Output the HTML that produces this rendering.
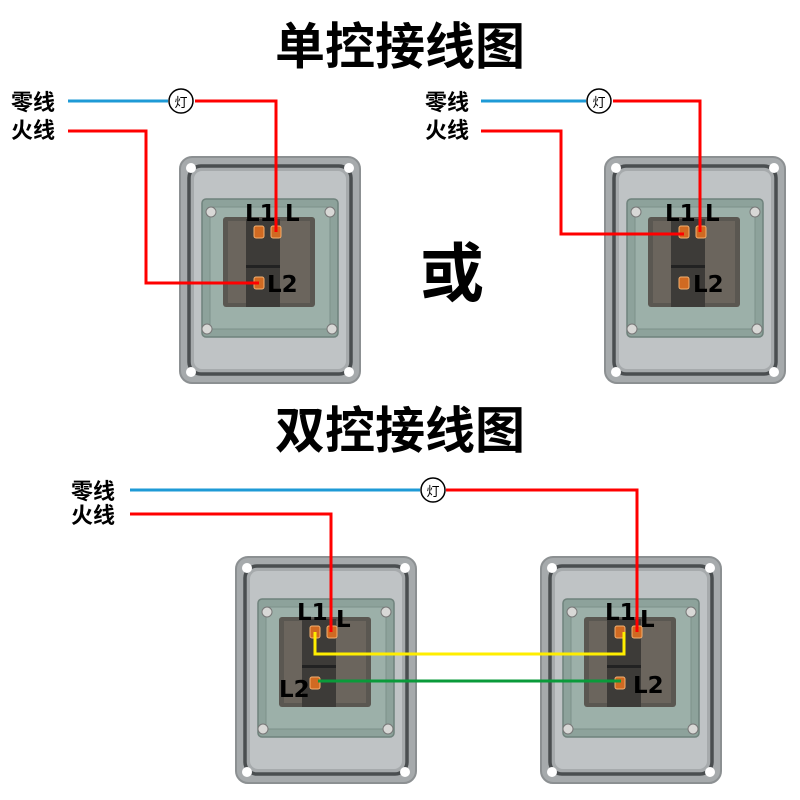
<!DOCTYPE html>
<html><head><meta charset="utf-8"><style>
html,body{margin:0;padding:0;background:#fff}
svg{display:block}
text{font-family:"Liberation Sans","Noto Sans CJK SC",sans-serif}
.cj{font-family:"Noto Sans CJK SC","WenQuanYi Zen Hei",sans-serif;font-weight:bold}
.lb{font-family:"DejaVu Sans","Liberation Sans",sans-serif;font-weight:bold;font-size:23px;fill:#000}
</style></head><body>
<svg width="800" height="800" viewBox="0 0 800 800" xmlns="http://www.w3.org/2000/svg">
<defs>
<g id="sw">
  <rect x="0" y="0" width="180" height="226" rx="12" fill="#a6aaac" stroke="#8c9092" stroke-width="2"/>
  <rect x="9" y="9" width="162" height="208" rx="12" fill="none" stroke="#4a4e50" stroke-width="3.5"/>
  <rect x="14" y="14" width="152" height="198" rx="8" fill="#bfc3c5"/>
  <circle cx="11" cy="11" r="5" fill="#fff"/><circle cx="169" cy="11" r="5" fill="#fff"/>
  <circle cx="11" cy="215" r="5" fill="#fff"/><circle cx="169" cy="215" r="5" fill="#fff"/>
  <rect x="22" y="42" width="136" height="138" rx="4" fill="#8da29b" stroke="#6f827c" stroke-width="1.5"/>
  <rect x="30" y="50" width="120" height="122" rx="3" fill="#9cb0a9" stroke="#7d918a" stroke-width="1"/>
  <rect x="43" y="60" width="92" height="90" rx="3" fill="#5a5751"/>
  <rect x="48" y="64" width="82" height="82" fill="#6b655d"/>
  <rect x="66" y="62" width="34" height="88" fill="#3d3b38"/>
  <rect x="66" y="108" width="34" height="3" fill="#222"/>
  <circle cx="31" cy="55" r="5" fill="#d8d8d6" stroke="#777"/>
  <circle cx="150" cy="55" r="5" fill="#d8d8d6" stroke="#777"/>
  <circle cx="27" cy="172" r="5" fill="#d8d8d6" stroke="#777"/>
  <circle cx="152" cy="172" r="5" fill="#d8d8d6" stroke="#777"/>
  <rect x="74" y="69" width="10" height="12" rx="2" fill="#d06a22" stroke="#f3b070"/>
  <rect x="91" y="69" width="10" height="12" rx="2" fill="#d06a22" stroke="#f3b070"/>
  <rect x="74" y="120" width="10" height="12" rx="2" fill="#d06a22" stroke="#f3b070"/>
</g>
</defs>

<text x="400" y="64" text-anchor="middle" class="cj" font-size="50">单控接线图</text>
<text x="452" y="296" text-anchor="middle" class="cj" font-size="64">或</text>
<text x="400" y="448" text-anchor="middle" class="cj" font-size="50">双控接线图</text>

<use href="#sw" x="180" y="157"/>
<use href="#sw" x="605" y="157"/>
<use href="#sw" x="236" y="557"/>
<use href="#sw" x="541" y="557"/>

<!-- top-left -->
<text x="11" y="110" class="cj" font-size="22">零线</text>
<text x="11" y="138" class="cj" font-size="22">火线</text>
<line x1="68" y1="101" x2="168" y2="101" stroke="#1e9ad6" stroke-width="3"/>
<circle cx="181" cy="101" r="12" fill="#fff" stroke="#000" stroke-width="1.5"/>
<text x="181" y="107" text-anchor="middle" font-size="13" class="cj" style="font-weight:normal">灯</text>
<polyline points="195,101 276,101 276,232" fill="none" stroke="#f00" stroke-width="3"/>
<polyline points="68,131 146,131 146,283 259,283" fill="none" stroke="#f00" stroke-width="3"/>
<text x="245" y="221" class="lb">L1</text><text x="285" y="221" class="lb">L</text>
<text x="267" y="292" class="lb">L2</text>

<!-- top-right -->
<text x="425" y="110" class="cj" font-size="22">零线</text>
<text x="425" y="138" class="cj" font-size="22">火线</text>
<line x1="481" y1="101" x2="586" y2="101" stroke="#1e9ad6" stroke-width="3"/>
<circle cx="599" cy="101" r="12" fill="#fff" stroke="#000" stroke-width="1.5"/>
<text x="599" y="107" text-anchor="middle" font-size="13" class="cj" style="font-weight:normal">灯</text>
<polyline points="613,101 700,101 700,232" fill="none" stroke="#f00" stroke-width="3"/>
<polyline points="481,131 561,131 561,234 684,234" fill="none" stroke="#f00" stroke-width="3"/>
<text x="665" y="221" class="lb">L1</text><text x="705" y="221" class="lb">L</text>
<text x="693" y="292" class="lb">L2</text>

<!-- bottom -->
<text x="71" y="499" class="cj" font-size="22">零线</text>
<text x="71" y="523" class="cj" font-size="22">火线</text>
<line x1="130" y1="490" x2="420" y2="490" stroke="#1e9ad6" stroke-width="3"/>
<circle cx="433" cy="490" r="12" fill="#fff" stroke="#000" stroke-width="1.5"/>
<text x="433" y="496" text-anchor="middle" font-size="13" class="cj" style="font-weight:normal">灯</text>
<polyline points="446,490 637,490 637,632" fill="none" stroke="#f00" stroke-width="3"/>
<polyline points="130,514 331,514 331,632" fill="none" stroke="#f00" stroke-width="3"/>
<polyline points="315,632 315,654 624,654 624,632" fill="none" stroke="#ffee00" stroke-width="3"/>
<line x1="318" y1="681" x2="621" y2="681" stroke="#0a9a3a" stroke-width="3"/>
<text x="297" y="620" class="lb">L1</text><text x="336" y="627" class="lb">L</text>
<text x="279" y="697" class="lb">L2</text>
<text x="605" y="620" class="lb">L1</text><text x="640" y="627" class="lb">L</text>
<text x="633" y="693" class="lb">L2</text>
</svg>
</body></html>
